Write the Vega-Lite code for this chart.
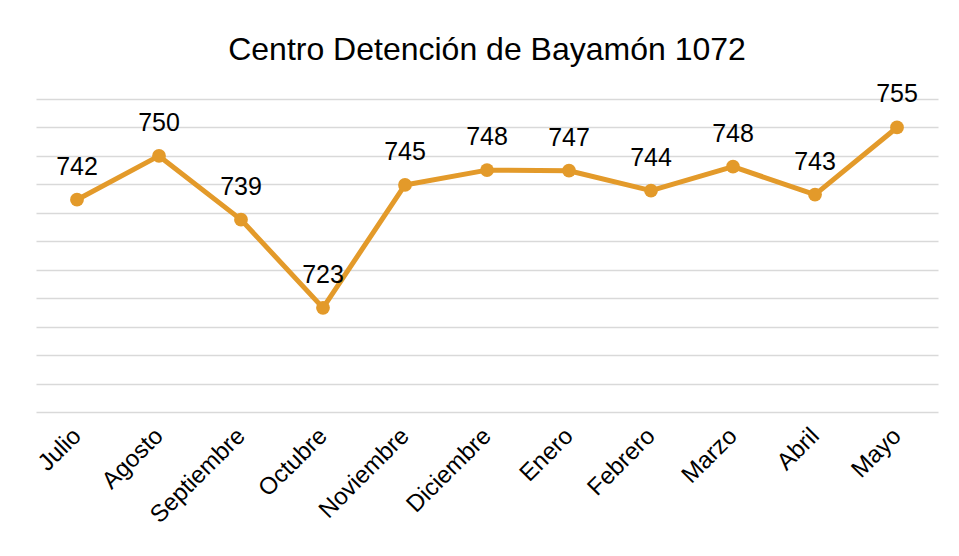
{
  "$schema": "https://vega.github.io/schema/vega-lite/v6.json",
  "autosize": {"type": "none"},
  "width": 902,
  "height": 313,
  "padding": {"left": 36, "top": 99, "right": 21, "bottom": 144},
  "background": "white",
  "title": {
    "text": "Centro Detención de Bayamón 1072",
    "font": "Liberation Sans",
    "fontSize": 32,
    "fontWeight": "normal",
    "color": "#000000",
    "anchor": "middle",
    "baseline": "alphabetic",
    "offset": -10
  },
  "config": {
    "view": {"stroke": null},
    "font": "Liberation Sans"
  },
  "data": {
    "values": [
      {"mes": "Julio", "valor": 742.3},
      {"mes": "Agosto", "valor": 750},
      {"mes": "Septiembre", "valor": 738.8},
      {"mes": "Octubre", "valor": 723.3},
      {"mes": "Noviembre", "valor": 744.9},
      {"mes": "Diciembre", "valor": 747.5},
      {"mes": "Enero", "valor": 747.4},
      {"mes": "Febrero", "valor": 743.9},
      {"mes": "Marzo", "valor": 748.1},
      {"mes": "Abril", "valor": 743.2},
      {"mes": "Mayo", "valor": 755}
    ]
  },
  "encoding": {
    "x": {
      "field": "mes",
      "type": "nominal",
      "sort": null,
      "scale": {"type": "point", "padding": 0.5},
      "axis": {
        "title": null,
        "labelAngle": -45,
        "labelAlign": "right",
        "labelBaseline": "middle",
        "labelFont": "Liberation Sans",
        "labelFontSize": 24,
        "labelColor": "#000000",
        "labelPadding": 20,
        "ticks": false,
        "domain": false,
        "grid": false
      }
    },
    "y": {
      "field": "valor",
      "type": "quantitative",
      "scale": {"domain": [705, 760], "nice": false, "zero": false},
      "axis": {
        "title": null,
        "labels": false,
        "ticks": false,
        "domain": false,
        "grid": true,
        "gridColor": "#d9d9d9",
        "gridWidth": 1.5,
        "values": [705, 710, 715, 720, 725, 730, 735, 740, 745, 750, 755, 760]
      }
    }
  },
  "layer": [
    {
      "mark": {"type": "line", "color": "#E39A2A", "strokeWidth": 5, "strokeJoin": "round"}
    },
    {
      "mark": {"type": "point", "filled": true, "opacity": 1, "color": "#E39A2A", "size": 190, "shape": "circle"}
    },
    {
      "mark": {"type": "text", "font": "Liberation Sans", "fontSize": 25, "color": "#000000", "baseline": "alphabetic", "dy": -25},
      "encoding": {
        "text": {"field": "valor", "type": "quantitative", "format": ".0f"}
      }
    }
  ]
}
